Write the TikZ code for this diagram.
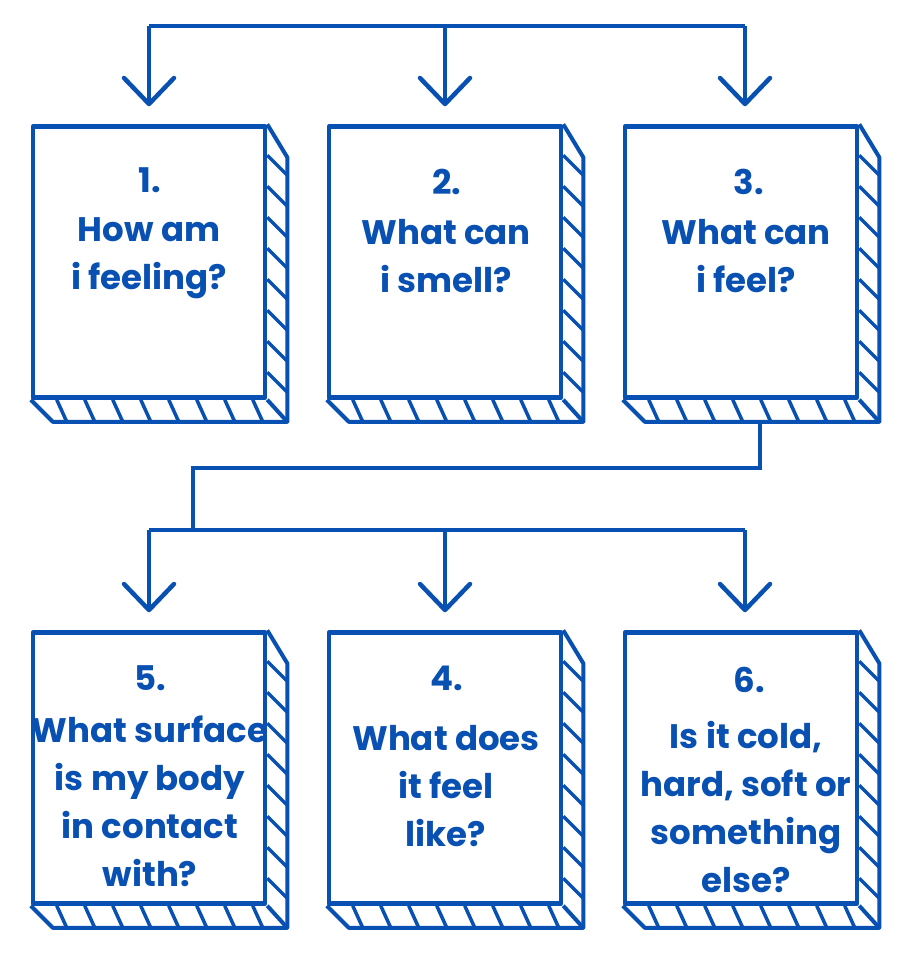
\documentclass[tikz,border=0pt]{standalone}
\usepackage{fontspec}
\setmainfont{Poppins}
\usetikzlibrary{arrows.meta,calc}

\definecolor{cardblue}{RGB}{9,80,179}

\begin{document}
\begin{tikzpicture}[x=1pt,y=-1pt,
    card/.style={draw=cardblue, line width=4.5pt, line join=round, fill=white,
                 minimum width=232pt, minimum height=271pt, inner sep=0pt},
    strip/.style={draw=cardblue, line width=4pt, line join=round},
    hatch/.style={draw=cardblue, line width=3.5pt},
    wire/.style={draw=cardblue, line width=4.5pt},
    drop/.style={wire, -{Straight Barb[length=26pt,width=50pt,round]}, shorten >=18pt},
    num/.style={text=cardblue, inner sep=0pt, font=\fontsize{34}{48}\selectfont\bfseries},
    question/.style={num, align=center}]

    \fill[white] (0,0) rectangle (921,958);
    \useasboundingbox (0,0) rectangle (921,958);

    %% Draw cards
    \node[card] (card1) at (149,262) {};
    \node[card] (card2) at (445,262) {};
    \node[card] (card3) at (741,262) {};
    \node[card] (card5) at (149,768) {};
    \node[card] (card4) at (445,768) {};
    \node[card] (card6) at (741,768) {};

    %% Draw hatched sides of the cards
    \foreach \card in {card1,card2,card3,card4,card5,card6}{
        \draw[strip] (\card.north east) -- ++(20,33) -- ($(\card.south east)+(20,22)$)
            -- ($(\card.south west)+(22,22)$) -- (\card.south west);
        \draw[strip] (\card.south east) -- ++(20,22);
        \foreach \i in {1,...,8}
            \draw[hatch] ($(\card.north east)+(0,\i*31)$) -- ++(20,20);
        \foreach \i in {0,...,7}
            \draw[hatch] ($(\card.south west)+(26+\i*28,0)$) -- ++(10,22);
    }

    %% Draw text on cards
    \node[num] (n1) at (150,180) {1.};
    \node[question] (q1) at (149,258) {How am\\ i feeling?};
    \node[num] (n2) at (447,182) {2.};
    \node[question] (q2) at (446,256) {What can\\ i smell?};
    \node[num] (n3) at (749,182) {3.};
    \node[question] (q3) at (746,256) {What can\\ i feel?};
    \node[num] (n5) at (150,678) {5.};
    \node[question] (q5) at (150,801) {What surface\\ is my body\\ in contact\\ with?};
    \node[num] (n4) at (447,678) {4.};
    \node[question] (q4) at (446,786) {What does\\ it feel\\ like?};
    \node[num] (n6) at (749,680) {6.};
    \node[question] (q6) at (746,807) {Is it cold,\\ hard, soft or\\ something\\ else?};

    %% Draw connectors
    \coordinate (topbar) at (445,26);
    \coordinate (bend) at (193,468);
    \coordinate (lowbar) at (445,530);

    \draw[wire] (card1.north |- topbar) -- ([xshift=4pt]card3.north |- topbar);
    \draw[drop] (card1.north |- topbar) -- (card1.north);
    \draw[drop] (card2.north |- topbar) -- (card2.north);
    \draw[drop] ([xshift=4pt]card3.north |- topbar) -- ([xshift=4pt]card3.north);

    \draw[wire] ($(card3.south)+(19,20)$) |- (bend) -- (bend |- lowbar);
    \draw[wire] (card5.north |- lowbar) -- ([xshift=4pt]card6.north |- lowbar);
    \draw[drop] (card5.north |- lowbar) -- (card5.north);
    \draw[drop] (card4.north |- lowbar) -- (card4.north);
    \draw[drop] ([xshift=4pt]card6.north |- lowbar) -- ([xshift=4pt]card6.north);
\end{tikzpicture}
\end{document}
